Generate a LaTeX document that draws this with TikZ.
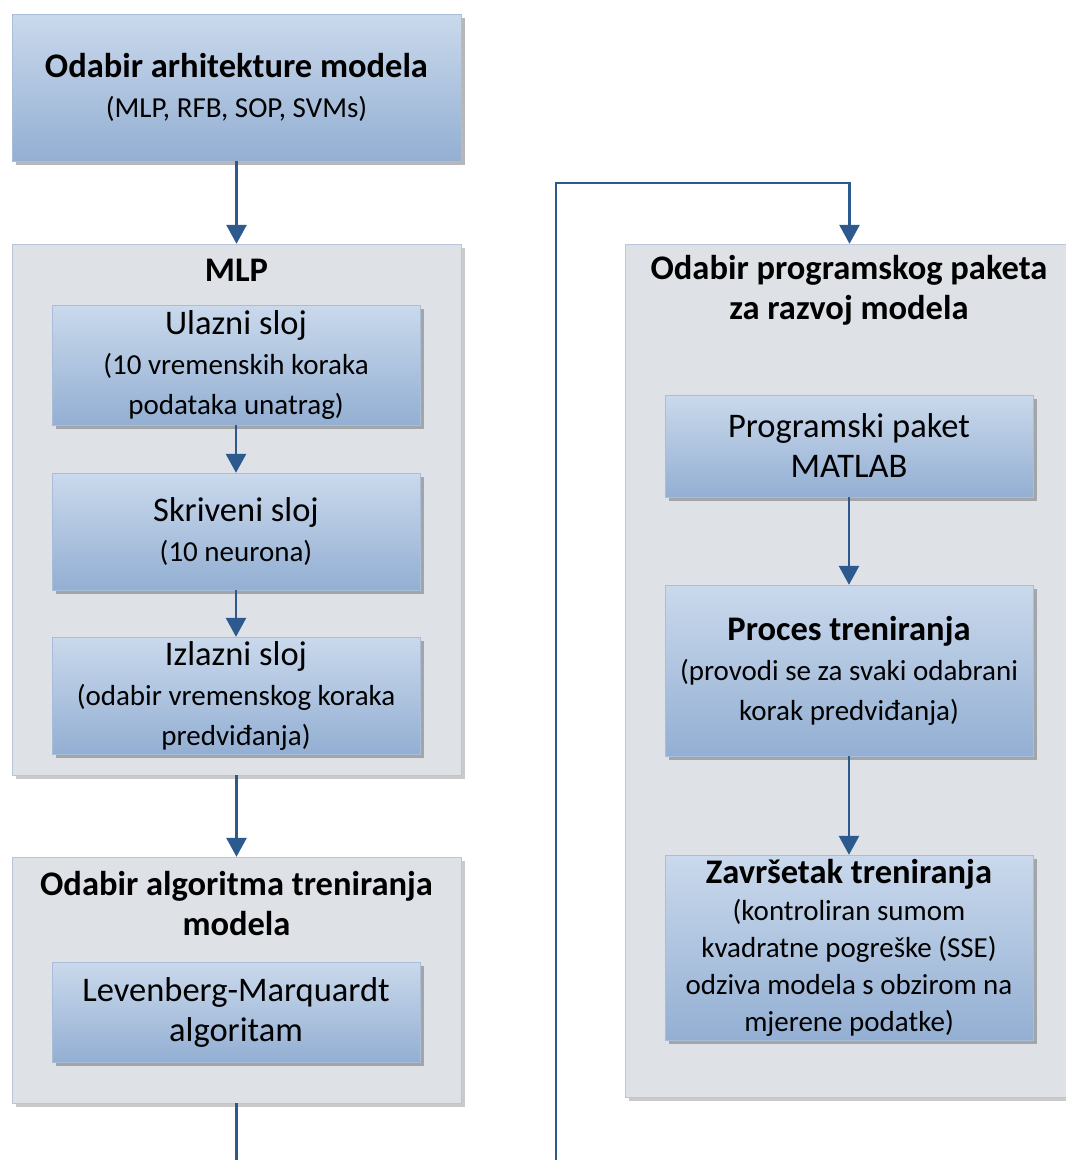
\documentclass[tikz,border=0pt]{standalone}
\usepackage{fontspec}
\setmainfont{Carlito}
\usetikzlibrary{positioning, shadows, arrows.meta}

\definecolor{boxtop}{HTML}{CAD9EC}
\definecolor{boxbot}{HTML}{93AFD3}
\definecolor{boxline}{HTML}{A9BDD8}
\definecolor{panelfill}{HTML}{DEE2E7}
\definecolor{panelline}{HTML}{B8C6D8}
\definecolor{flowblue}{HTML}{2C5A8F}

\newcommand{\hdfont}{\fontsize{34.5}{40}\selectfont}
\newcommand{\subfont}{\fontsize{29}{40}\selectfont}
\newcommand{\hdtight}{\fontsize{34.5}{37}\selectfont}
\newcommand{\subtight}{\fontsize{29}{37}\selectfont}

\begin{document}
\begin{tikzpicture}[x=1pt, y=-1pt,
    % inner blue step boxes
    step_box/.style={rectangle, draw=boxline, top color=boxtop, bottom color=boxbot,
        minimum width=368pt, align=center, inner sep=0pt, font=\subfont,
        drop shadow={shadow xshift=4pt, shadow yshift=-4pt, fill=black!70, opacity=0.4}},
    % grey container panels
    panel/.style={rectangle, draw=panelline, fill=panelfill, minimum width=449pt,
        drop shadow={shadow xshift=4pt, shadow yshift=-4pt, fill=black!60, opacity=0.35}},
    panel_title/.style={align=center, font=\hdfont\bfseries, inner sep=0pt},
    % connectors
    link/.style={draw=flowblue, line width=2.8pt},
    flow/.style={link, -{Triangle[width=20pt, length=19pt]}}
]
    \clip (0,0) rectangle (1066,1160);

    % ================= LEFT COLUMN =================
    \node[step_box, minimum width=449pt, minimum height=147pt] (arch) at (236.5, 87.5)
        {{\hdfont\bfseries Odabir arhitekture modela}\\ {\subfont (MLP, RFB, SOP, SVMs)}};

    % --- MLP panel ---
    \node[panel, minimum height=531pt] (mlp) at (236.5, 509.5) {};
    \node[panel_title] (mlp_t) at (236.5, 270) {MLP};
    \node[step_box, minimum height=120pt] (in_l) at (236, 365)
        {{\hdfont Ulazni sloj}\\ {\subfont (10 vremenskih koraka}\\ {\subfont podataka unatrag)}};
    \node[step_box, minimum height=117pt] (hid_l) at (236, 531.5)
        {{\hdfont Skriveni sloj}\\ {\subfont (10 neurona)}};
    \node[step_box, minimum height=117pt] (out_l) at (236, 695.5)
        {{\hdfont Izlazni sloj}\\ {\subfont (odabir vremenskog koraka}\\ {\subfont predviđanja)}};

    % --- training algorithm panel ---
    \node[panel, minimum height=246pt] (alg) at (236.5, 980) {};
    \node[panel_title] (alg_t) at (236.5, 903.5) {Odabir algoritma treniranja\\ modela};
    \node[step_box, minimum height=100pt] (lm) at (236, 1012)
        {{\hdfont Levenberg-Marquardt}\\ {\hdfont algoritam}};

    % ================= RIGHT COLUMN =================
    \node[panel, minimum height=853pt] (soft) at (849.5, 670.5) {};
    \node[panel_title] (soft_t) at (849, 290.5) {Odabir programskog paketa\\ za razvoj modela};
    \node[step_box, minimum height=102pt] (matlab) at (849, 446)
        {{\hdfont Programski paket}\\ {\hdfont MATLAB}};
    \node[step_box, minimum height=171pt] (train) at (849, 670.5)
        {{\hdfont\bfseries Proces treniranja}\\ {\subfont (provodi se za svaki odabrani}\\ {\subfont korak predviđanja)}};
    \node[step_box, minimum height=185pt, font=\subtight] (stop) at (849, 947.5)
        {{\hdtight\bfseries Završetak treniranja}\\ {\subtight (kontroliran sumom}\\ {\subtight kvadratne pogreške (SSE)}\\
         {\subtight odziva modela s obzirom na}\\ {\subtight mjerene podatke)}};

    % --- connectors ---
    \draw[flow] (arch) -- (mlp);
    \draw[flow] (in_l) -- (hid_l);
    \draw[flow] (hid_l) -- (out_l);
    \draw[flow] (mlp) -- (alg);
    \coordinate (alg_exit) at (236.5, 1170);
    \draw[link] (alg) -- (alg_exit);
    \coordinate (loop_in) at (556, 1170);
    \coordinate (loop_top) at (556, 183);
    \draw[flow] (loop_in) -- (loop_top) -| (soft);
    \draw[flow] (matlab) -- (train);
    \draw[flow] (train) -- (stop);
\end{tikzpicture}
\end{document}
